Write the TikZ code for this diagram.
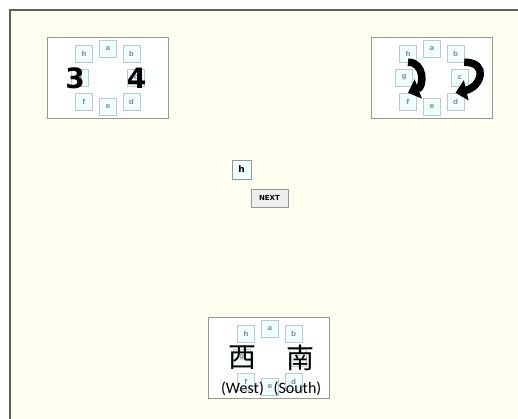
\documentclass[tikz,border=0pt]{standalone}
\usepackage{fontspec}
\setsansfont{DejaVu Sans}
\newfontfamily\cjk{Noto Sans CJK SC}
\newfontfamily\glossfont{Carlito}
\usetikzlibrary{arrows.meta}

\definecolor{pagebg}{RGB}{255,255,240}
\definecolor{tilefill}{RGB}{240,255,255}
\definecolor{tileline}{RGB}{190,202,202}
\definecolor{tiletext}{RGB}{145,145,145}
\definecolor{framegray}{RGB}{95,95,95}
\definecolor{panelline}{RGB}{150,150,150}
\definecolor{buttonfill}{RGB}{238,238,238}

\tikzset{
  panel/.style={draw=panelline, fill=white, minimum width=121pt, minimum height=81pt, inner sep=0pt},
  tile/.style={draw=tileline, fill=tilefill, text=tiletext, minimum size=17pt, inner sep=0pt,
    font=\sffamily\bfseries\fontsize{7}{7}\selectfont},
  digit/.style={font=\sffamily\bfseries\fontsize{28}{28}\selectfont, inner sep=0pt},
  hanzi/.style={font=\cjk\fontsize{28}{28}\selectfont, inner sep=0pt},
  gloss/.style={font=\glossfont\fontsize{16}{16}\selectfont, inner sep=0pt},
  button/.style={draw=panelline, fill=buttonfill, minimum width=37pt, minimum height=18pt, inner sep=0pt,
    font=\sffamily\bfseries\fontsize{7}{7}\selectfont},
  turnarrow/.style={line width=7.5pt, -{Triangle[length=11pt,width=20pt]}}
}

\begin{document}
\begin{tikzpicture}[x=1pt, y=-1pt]
  \useasboundingbox (0,0) rectangle (518,419);

  % Draw the page background and its frame
  \fill[pagebg] (10,10) rectangle (518,419);
  \draw[framegray, line width=2pt] (10,419) -- (10,10) -- (518,10);

  % Panels
  \node[panel] (leftpanel) at (107.5,77.5) {};
  \node[panel] (rightpanel) at (431.5,77.5) {};
  \node[panel] (bottompanel) at (269,357.5) {};

  % Letter tiles round each panel
  \foreach \p/\dx/\dy in {L/47/37, R/371/37, B/209/317} {
    \foreach \t/\x/\y in {a/61/11.5, h/37/16.5, b/84.5/16.5, g/33/40.5, c/89/40.5,
                          f/37/64.5, e/61/70, d/84.5/64.5}
      \node[tile] (\p-\t) at (\dx+\x, \dy+\y) {\t};
  }

  % Numbers in the left panel
  \node[digit] (three) at (75,78) {3};
  \node[digit] (four) at (136.5,78) {4};

  % Turning arrows in the right panel
  \draw[turnarrow] (R-h.south) .. controls +(17,0) and +(16,-6) .. (R-f.north);
  \draw[turnarrow] (R-b.south east) .. controls +(25,0) and +(26,-6) .. (R-d.north);

  % Current tile and button
  \node[tile, draw=panelline, text=black, minimum size=19pt,
    font=\sffamily\bfseries\fontsize{9}{9}\selectfont] (current) at (241.5,169.5) {h};
  \node[button] (next) at (269.5,198) {NEXT};

  % Characters in the bottom panel
  \node[hanzi] (west) at (242,357.5) {西};
  \node[hanzi] (south) at (300,357.5) {南};
  \node[gloss] (westgloss) at (242.5,388.5) {(West)};
  \node[gloss] (southgloss) at (297.5,388.5) {(South)};
\end{tikzpicture}
\end{document}
